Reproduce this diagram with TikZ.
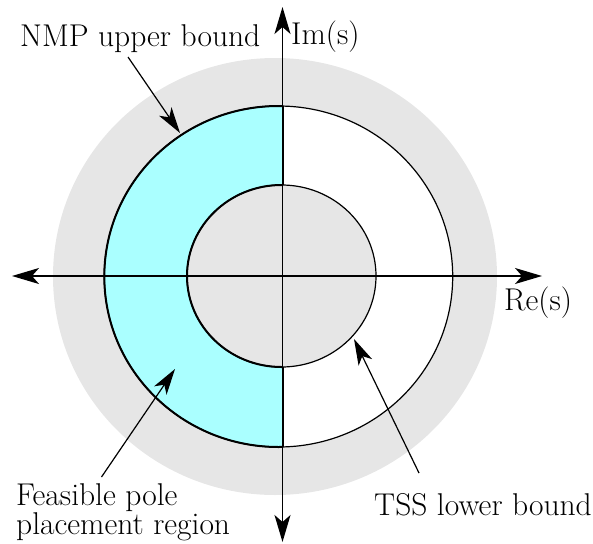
\documentclass[tikz,border=0pt]{standalone}
\usetikzlibrary{arrows.meta}
\definecolor{ringgrey}{HTML}{E6E6E6}
\definecolor{feascyan}{HTML}{AAFFFF}
\begin{document}
\begin{tikzpicture}[x=1pt,y=-1pt,
  lbl/.style={font=\fontsize{31.5}{27}\selectfont, inner sep=0pt, anchor=base west},
  axis/.style={line width=1.4pt, {Stealth[length=27pt,width=16pt,inset=7pt]}-{Stealth[length=27pt,width=16pt,inset=7pt]}},
  pointer/.style={line width=1.2pt, -{Stealth[length=26pt,width=15pt,inset=7pt]}},
  rim/.style={line width=1.2pt},
  bold rim/.style={line width=2pt}]
\useasboundingbox (0,0) rectangle (593,543);
% regions
\fill[ringgrey] (275,276.5) ellipse [x radius=222, y radius=218.5];
\fill[white] (278.5,276.5) ellipse [x radius=174.2, y radius=170.5];
\begin{scope}
  \clip (0,0) rectangle (282.5,543);
  \fill[feascyan] (278.5,276.5) ellipse [x radius=174.2, y radius=170.5];
\end{scope}
\fill[ringgrey] (281.5,276) ellipse [x radius=94.5, y radius=91];
% outlines
\draw[rim] (278.5,276.5) ellipse [x radius=174.2, y radius=170.5];
\draw[rim] (281.5,276) ellipse [x radius=94.5, y radius=91];
\begin{scope}
  \clip (0,0) rectangle (282.5,543);
  \draw[bold rim] (278.5,276.5) ellipse [x radius=174.2, y radius=170.5];
  \draw[bold rim] (281.5,276) ellipse [x radius=94.5, y radius=91];
\end{scope}
\draw[bold rim] (104.3,276) -- (187,276);
\draw[bold rim] (282.5,106) -- (282.5,185);
\draw[bold rim] (282.5,367) -- (282.5,447);
% axes
\coordinate (xl) at (12,276);
\coordinate (xr) at (542,276);
\coordinate (yt) at (282.5,7);
\coordinate (yb) at (282.5,542);
\draw[axis] (xl) -- (xr);
\draw[axis] (yb) -- (yt);
% labels
\node[lbl] (nmp) at (20,46) {NMP upper bound};
\node[lbl] (im) at (291,45) {Im(s)};
\node[lbl] (re) at (504,310) {Re(s)};
\node[lbl, anchor=north west, align=left] (feas) at (16,483) {Feasible pole\\placement region};
\node[lbl] (tss) at (374,515) {TSS lower bound};
% pointers
\coordinate (nmpstart) at (128,57);
\coordinate (nmptip) at (180,133);
\coordinate (feasstart) at (101.5,477);
\coordinate (feastip) at (175,369);
\coordinate (tssstart) at (419,473);
\coordinate (tsstip) at (354,339);
\draw[pointer] (nmpstart) -- (nmptip);
\draw[pointer] (feasstart) -- (feastip);
\draw[pointer] (tssstart) -- (tsstip);
\end{tikzpicture}
\end{document}
